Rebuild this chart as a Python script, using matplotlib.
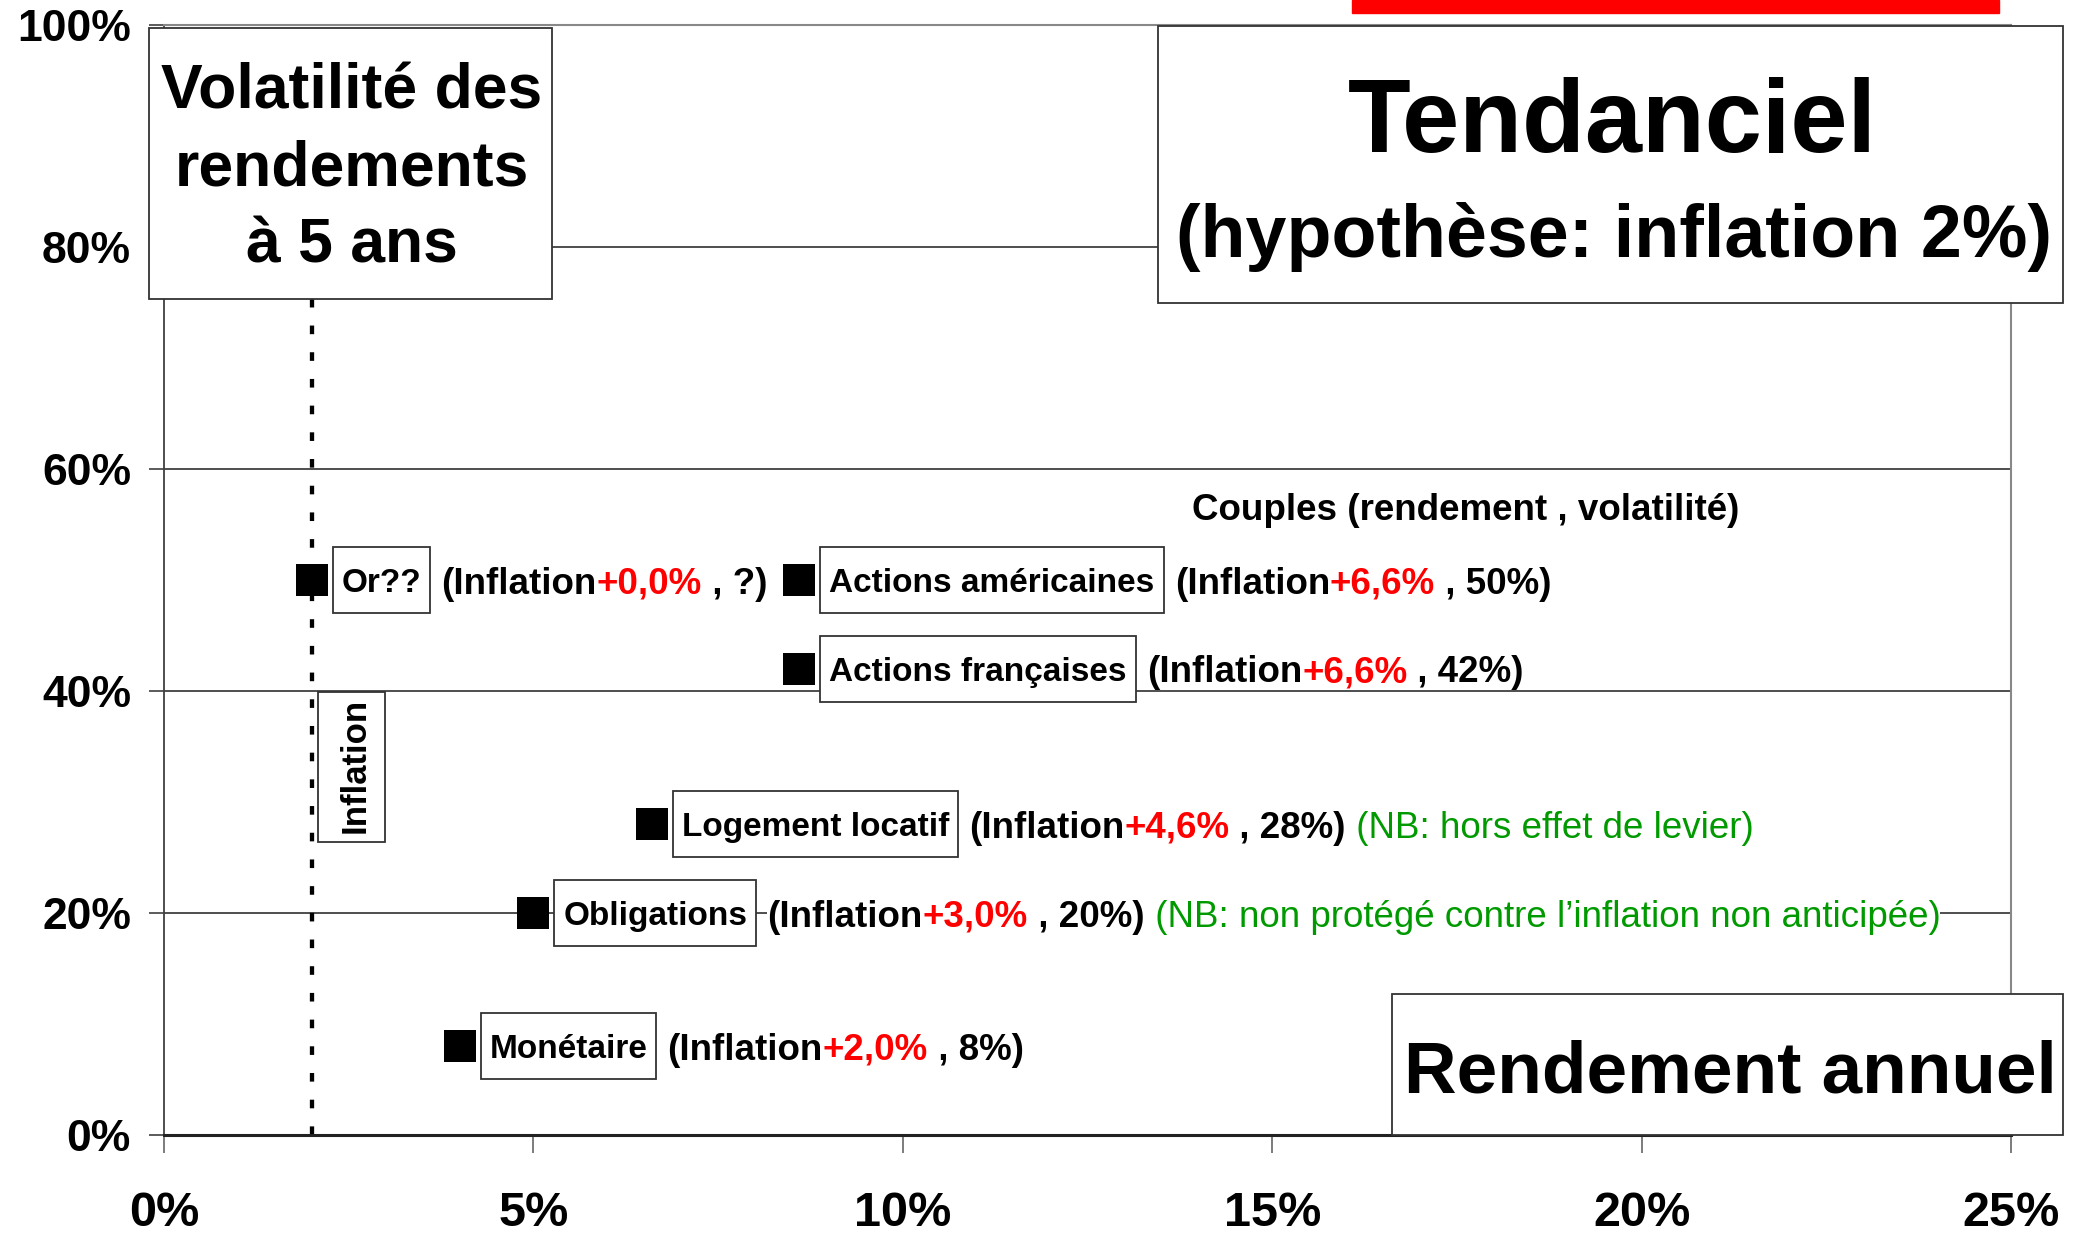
import matplotlib.pyplot as plt
import matplotlib.patches as mpatches
import matplotlib.transforms as mtransforms

plt.rcParams['font.family'] = ['Liberation Sans', 'DejaVu Sans']

# donnees (rendement annuel %, volatilite a 5 ans %)
actifs = ['Or??', 'Actions américaines', 'Actions françaises',
          'Logement locatif', 'Obligations', 'Monétaire']
rendement = [2.0, 8.6, 8.6, 6.6, 5.0, 4.0]
volatilite = [50, 50, 42, 28, 20, 8]
prime = ['+0,0%', '+6,6%', '+6,6%', '+4,6%', '+3,0%', '+2,0%']
vol_txt = ['?', '50%', '42%', '28%', '20%', '8%']
notes = ['', '', '', '(NB: hors effet de levier)',
         '(NB: non protégé contre l\u2019inflation non anticipée)', '']
inflation = 2.0

x_ticks = [0, 5, 10, 15, 20, 25]
y_ticks = [0, 20, 40, 60, 80, 100]

titre_y = ['Volatilité des', 'rendements', 'à 5 ans']
titre = 'Tendanciel'
sous_titre = '(hypothèse: inflation 2%)'
titre_x = 'Rendement annuel'
legende = 'Couples (rendement , volatilité)'

RED = '#ff0000'
GREEN = '#009a00'
DPI = 100

fig = plt.figure(figsize=(20.87, 12.34), dpi=DPI)
ax = fig.add_axes([0.0786, 0.0802, 0.8850, 0.8995])
ax.set_xlim(0, 25)
ax.set_ylim(0, 100)
ax.set_xticks(x_ticks)
ax.set_xticklabels([f'{v}%' for v in x_ticks], fontsize=35, fontweight='bold')
ax.set_yticks(y_ticks)
ax.set_yticklabels([f'{v}%' for v in y_ticks], fontsize=32, fontweight='bold')
ax.tick_params(axis='x', direction='out', length=13, width=1.2, color='#666666', pad=27)
ax.tick_params(axis='y', direction='out', length=10.8, width=1.2, color='#404040', pad=13)

for v in y_ticks[1:-1]:
    ax.axhline(v, color='#404040', lw=1.3, zorder=1)

ax.spines['left'].set_color('#404040')
ax.spines['left'].set_linewidth(1.3)
ax.spines['bottom'].set_color('#222222')
ax.spines['bottom'].set_linewidth(2.2)
for side in ['right', 'top']:
    ax.spines[side].set_color('#888888')
    ax.spines[side].set_linewidth(1.5)

# ligne de l'inflation
ax.axvline(inflation, color='black', lw=3.1, linestyle=(0, (2.0, 4.2)), zorder=2)

ax.plot(rendement, volatilite, 's', color='black', markersize=23,
        markeredgewidth=0, zorder=4, clip_on=False)

fig.canvas.draw()
renderer = fig.canvas.get_renderer()
ident = mtransforms.IdentityTransform()


def box_label(x0, yc, s):
    t = fig.text(x0 + 9, yc, s, transform=ident, fontsize=24, fontweight='bold',
                 va='center_baseline', ha='left', zorder=6)
    w = t.get_window_extent(renderer).width + 18
    fig.add_artist(mpatches.Rectangle((x0, yc - 33), w, 66, transform=ident,
                                      fc='white', ec='#333333', lw=1.3, zorder=5))
    return x0 + w


def suite(x, yc, parts):
    for s, color, weight in parts:
        t = fig.text(x, yc, s, transform=ident, fontsize=26.5, color=color,
                     fontweight=weight, va='center_baseline', ha='left',
                     bbox=dict(fc='white', ec='none', pad=0), zorder=6)
        x = t.get_window_extent(renderer).x1
    return x


for nom, r, v, p, vt, nb in zip(actifs, rendement, volatilite, prime, vol_txt, notes):
    xd, yd = ax.transData.transform((r, v))
    x = box_label(xd + 16 + 5, yd, nom)
    parts = [('(Inflation', 'black', 'bold'), (p, RED, 'bold'),
             (f' , {vt})', 'black', 'bold')]
    if nb:
        parts.append((' ' + nb, GREEN, 'normal'))
    suite(x + 11, yd, parts)

# encadres
def cadre(x0, x1, y0, y1):
    fig.add_artist(mpatches.Rectangle((x0, y0), x1 - x0, y1 - y0, transform=ax.transData,
                                      fc='white', ec='#333333', lw=1.3, zorder=5))

cadre(-0.21, 5.25, 75.3, 99.7)
for i, ligne in enumerate(titre_y):
    fig.text(2.54, 92.5 - i * 6.95, ligne, transform=ax.transData, fontsize=45,
             fontweight='bold', ha='center', va='baseline', zorder=6)

cadre(13.46, 25.71, 75.0, 99.9)
fig.text(19.61, 88.6, titre, transform=ax.transData, fontsize=74,
         fontweight='bold', ha='center', va='baseline', zorder=6)
fig.text(19.62, 79.1, sous_titre, transform=ax.transData, fontsize=53,
         fontweight='bold', ha='center', va='baseline', zorder=6)

cadre(16.62, 25.71, 0.0, 12.7)
fig.text(21.2, 3.8, titre_x, transform=ax.transData, fontsize=52.5,
         fontweight='bold', ha='center', va='baseline', zorder=6)

cadre(2.09, 2.99, 26.4, 39.9)
fig.text(2.54, 33.3, 'Inflation', transform=ax.transData, fontsize=25,
         fontweight='bold', rotation=90, rotation_mode='anchor',
         ha='center', va='center_baseline', zorder=6)

fig.text(13.92, 55.4, legende, transform=ax.transData, fontsize=26.5,
         fontweight='bold', ha='left', va='baseline', zorder=6)

# bandeau rouge en haut
fig.add_artist(mpatches.Rectangle((0.648, 0.9895), 0.3096, 0.0105,
                                  transform=fig.transFigure, color=RED, zorder=5))

fig.savefig('out.png', dpi=DPI)
